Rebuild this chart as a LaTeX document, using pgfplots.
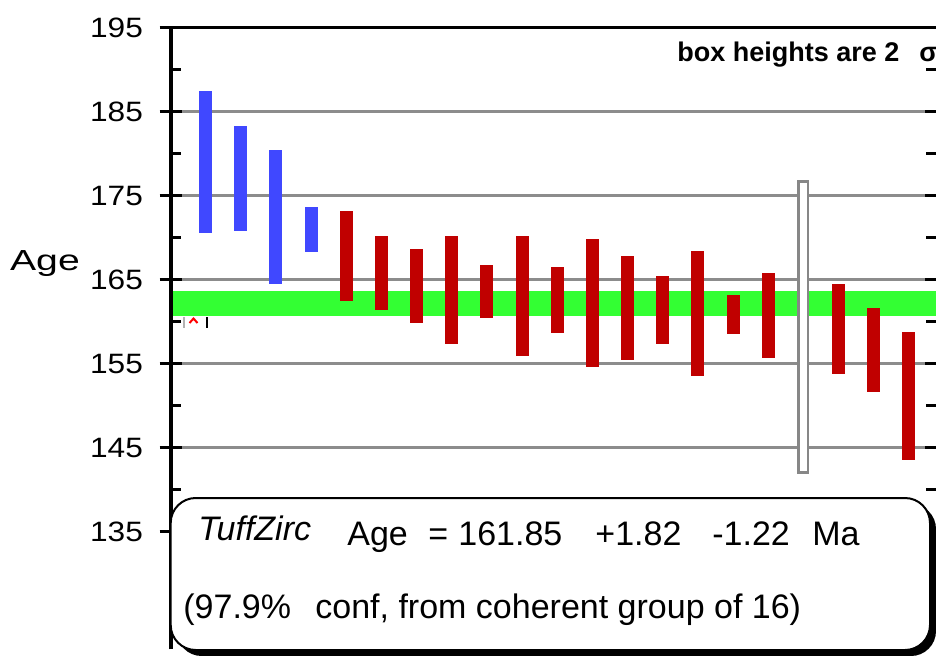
\documentclass[border=0pt]{standalone}
\usepackage{pgfplots}
\pgfplotsset{compat=1.18}
\usepackage{pgfplotstable}
\usepackage{fontspec}
\setmainfont{Liberation Sans}
\usepackage{graphicx}
\definecolor{barblue}{RGB}{64,72,255}
\definecolor{barred}{RGB}{192,0,0}
\definecolor{bandgreen}{RGB}{51,255,51}
\definecolor{gridgray}{RGB}{140,140,140}
\definecolor{boxgray}{RGB}{135,135,135}

% analysis number, lower and upper end of the 2-sigma box
\pgfplotstableread{
i  lo     hi
1  170.6  187.5
2  170.8  183.3
3  164.5  180.5
4  168.3  173.7
}\rejhigh
\pgfplotstableread{
i  lo     hi
5  162.5  173.2
6  161.4  170.2
7  159.9  168.6
8  157.4  170.2
9  160.5  166.7
10 155.9  170.2
11 158.7  166.5
12 154.6  169.8
13 155.4  167.8
14 157.4  165.4
15 153.5  168.4
16 158.5  163.2
17 155.7  165.8
19 153.8  164.5
20 151.6  161.6
21 143.5  158.8
}\coherent

\pgfplotsset{
  frame/.style={
    at={(0,0)}, anchor=south west,
    scale only axis, width=382.65pt, height=310.8pt,
    xmin=0.01, xmax=21.771, ymin=121, ymax=195,
    clip=false, axis line style={draw=none}, xtick=\empty,
    ytick={135,145,...,195},
    every tick/.append style={draw=black, line width=1.4pt},
    major tick style={draw=black, line width=1.4pt},
    minor tick style={draw=black, line width=1.4pt},
  },
}

\begin{document}
\begin{tikzpicture}
\begin{axis}[
  frame,
  tick align=inside, major tick length=5.5pt,
  minor ytick={140,150,...,190}, minor tick length=5pt,
  ymajorgrids, major grid style={draw=gridgray, line width=1.3pt},
  /pgf/number format/assume math mode=true,
  yticklabel={\scalebox{1.13}[1]{\pgfmathprintnumber{\tick}}},
  yticklabel style={font=\fontsize{14}{14}\selectfont, anchor=east, inner sep=0pt, xshift=-13.7pt},
  ylabel={\scalebox{1.35}[1]{Age}},
  ylabel style={font=\fontsize{14.5}{14.5}\selectfont, rotate=-90, anchor=center, inner sep=0pt,
    at={(axis description cs:-0.1643,0.6208)}},
]
% weighted age band (161.85 +1.82 -1.22)
\addplot[fill=bandgreen, draw=none] coordinates {
  (0.01,160.63) (21.771,160.63) (21.771,163.67) (0.01,163.67)} -- cycle;
\addplot[draw=none, mark=none, error bars/.cd, y dir=both, y explicit, error mark=none,
  error bar style={draw=barblue, line width=6.5pt}]
  table[x=i, y expr={(\thisrow{lo}+\thisrow{hi})/2}, y error expr={(\thisrow{hi}-\thisrow{lo})/2}] {\rejhigh};
\addplot[draw=none, mark=none, error bars/.cd, y dir=both, y explicit, error mark=none,
  error bar style={draw=barred, line width=6.5pt}]
  table[x=i, y expr={(\thisrow{lo}+\thisrow{hi})/2}, y error expr={(\thisrow{hi}-\thisrow{lo})/2}] {\coherent};
% rejected analysis 18, open box
\addplot[draw=boxgray, fill=white, line width=1.3pt] coordinates {
  (17.868,142.07) (18.132,142.07) (18.132,176.71) (17.868,176.71)} -- cycle;
\end{axis}
% outer half of the major ticks
\begin{axis}[frame, tick align=outside, major tick length=5.5pt, yticklabels={}]
\end{axis}
\begin{scope}[x=0.5pt, y=-0.5pt, shift={(-85.35pt,324.65pt)}]
  % axis lines: left and top only
  \draw[line width=1.8pt] (170.7,649.3) -- (170.7,27.7);
  \draw[line width=1.4pt] (160,27.7) -- (936,27.7);
  \draw[gray!60, line width=0.8pt] (184,317) -- (184,328);
  \draw[red, line width=1pt] (189.5,323) -- (193.5,318.5) -- (197.5,323);
  \draw[black, line width=1pt] (206.5,317) -- (206.5,328);
  \node[anchor=base west, inner sep=0pt, font=\bfseries\fontsize{13.5}{13.5}\selectfont]
    at (677,62) {box heights are 2\hspace{10pt}σ};
  \fill[black, rounded corners=12.5pt] (176.7,504) rectangle (936,656);
  \draw[line width=1pt, fill=white, rounded corners=12.5pt] (170.7,498) rectangle (930,650);
  \begin{scope}[every node/.style={anchor=base west, inner sep=0pt, font=\fontsize{17}{17}\selectfont}]
    \node at (198,540) {\itshape TuffZirc};
    \node at (347,545) {Age};
    \node at (428,545) {=};
    \node at (458,545) {161.85};
    \node at (595,545) {+1.82};
    \node at (712,545) {-1.22};
    \node at (812,545) {Ma};
    \node at (183,618) {(97.9\%};
    \node at (315,618) {conf, from coherent group of 16)};
  \end{scope}
  \pgfresetboundingbox
  \path[use as bounding box] (0,0) rectangle (936,655);
\end{scope}
\end{tikzpicture}
\end{document}
